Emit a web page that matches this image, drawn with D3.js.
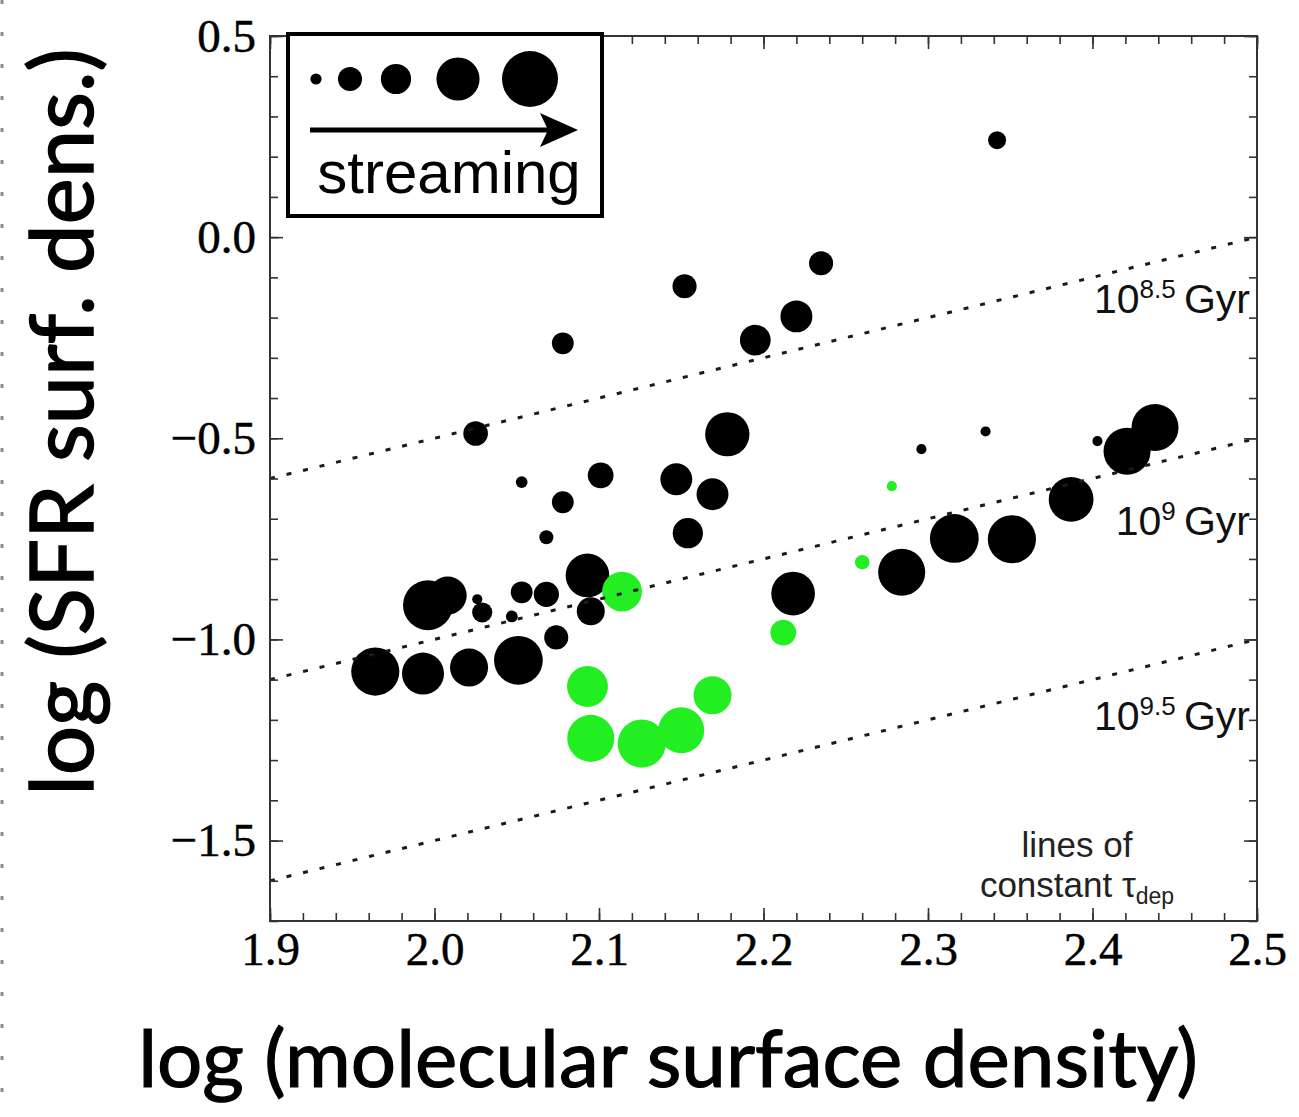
<!DOCTYPE html>
<html>
<head>
<meta charset="utf-8">
<script src="https://cdn.jsdelivr.net/npm/d3@7"></script>
<style>
  body { margin: 0; background: #fff; }
  svg { display: block; }
</style>
</head>
<body>
<svg id="chart" width="1299" height="1117"></svg>
<script>
// black galaxies / regions: log molecular surface density, log SFR surface density, streaming level
const blackX = [2.342, 2.235, 2.152, 2.220, 2.195, 2.078, 2.025, 2.178, 2.053, 2.101,
                2.078, 2.147, 2.169, 2.154, 2.068, 2.093, 1.996, 2.008, 2.026, 2.029,
                2.053, 2.068, 2.047, 2.095, 2.074, 1.964, 1.993, 2.021, 2.051, 2.218,
                2.296, 2.335, 2.403, 2.421, 2.438, 2.387, 2.351, 2.316, 2.284];
const blackY = [0.241, -0.065, -0.122, -0.197, -0.256, -0.264, -0.488, -0.490, -0.609, -0.592,
                -0.659, -0.602, -0.639, -0.736, -0.746, -0.841, -0.915, -0.891, -0.900, -0.933,
                -0.883, -0.888, -0.943, -0.930, -0.995, -1.080, -1.085, -1.070, -1.052, -0.886,
                -0.527, -0.483, -0.507, -0.532, -0.473, -0.652, -0.751, -0.749, -0.833];
const blackStream = [0.32, 0.43, 0.43, 0.57, 0.55, 0.39, 0.44, 0.79, 0.21, 0.46,
                     0.39, 0.57, 0.57, 0.54, 0.25, 0.78, 0.89, 0.68, 0.18, 0.36,
                     0.39, 0.45, 0.21, 0.50, 0.43, 0.86, 0.75, 0.68, 0.87, 0.78,
                     0.18, 0.18, 0.18, 0.84, 0.84, 0.80, 0.86, 0.87, 0.84];

// green galaxies / regions
const greenX = [2.114, 2.093, 2.095, 2.126, 2.150, 2.169, 2.212, 2.260, 2.278];
const greenY = [-0.881, -1.117, -1.246, -1.259, -1.226, -1.139, -0.983, -0.808, -0.619];
const greenStream = [0.71, 0.73, 0.84, 0.86, 0.82, 0.68, 0.46, 0.26, 0.18];

// legend sizes (increasing streaming)
const legendStream = [0.20, 0.43, 0.54, 0.77, 1.0];

// depletion times (log yr) for the dotted reference lines
const depLogTau = [8.5, 9, 9.5];
const depLabels = ['8.5', '9', '9.5'];

const xTicks = [1.9, 2.0, 2.1, 2.2, 2.3, 2.4, 2.5];
const yTicks = [-1.5, -1.0, -0.5, 0.0, 0.5];
const xMinor = d3.range(1.9, 2.5001, 0.02);
const yMinor = d3.range(-1.7, 0.5001, 0.1);

const margin = { top: 36, right: 42, bottom: 196, left: 270 };
const width = 1299 - margin.left - margin.right;
const height = 1117 - margin.top - margin.bottom;

const svg = d3.select('#chart');

// faint dashed edge on the far left of the page
svg.append('line')
    .attr('x1', 2).attr('x2', 2)
    .attr('y1', 0).attr('y2', 1117)
    .attr('stroke', '#8a8a8a')
    .attr('stroke-width', 3)
    .attr('stroke-dasharray', '4 28');

const g = svg.append('g')
    .attr('transform', `translate(${margin.left}, ${margin.top})`);

const xScale = d3.scaleLinear().domain([1.9, 2.5]).range([0, width]);
const yScale = d3.scaleLinear().domain([-1.7, 0.5]).range([height, 0]);
const rScale = d3.scaleLinear().domain([0, 1]).range([0, 28]);

g.append('clipPath').attr('id', 'plot-clip')
    .append('rect').attr('width', width).attr('height', height);

// points
const blackPts = blackX.map((x, i) => ({ x, y: blackY[i], s: blackStream[i], c: '#000' }));
const greenPts = greenX.map((x, i) => ({ x, y: greenY[i], s: greenStream[i], c: '#22ee22' }));

g.append('g')
    .attr('clip-path', 'url(#plot-clip)')
    .selectAll('circle')
    .data(blackPts.concat(greenPts))
    .join('circle')
    .attr('cx', d => xScale(d.x))
    .attr('cy', d => yScale(d.y))
    .attr('r', d => rScale(d.s))
    .attr('fill', d => d.c);

// lines of constant depletion time: log SFR = log Sigma + 6 - log tau
const line = d3.line()
    .x(d => xScale(d[0]))
    .y(d => yScale(d[1]));

g.append('g')
    .attr('clip-path', 'url(#plot-clip)')
    .selectAll('path')
    .data(depLogTau)
    .join('path')
    .attr('d', t => line([[1.9, 1.9 + 6 - t], [2.5, 2.5 + 6 - t]]))
    .attr('fill', 'none')
    .attr('stroke', '#1a1a1a')
    .attr('stroke-width', 3)
    .attr('stroke-dasharray', '5 12');

// axes, ticks inward on all four sides
function styleAxis(sel) {
    sel.select('.domain').remove();
    sel.selectAll('line').attr('stroke', '#333').attr('stroke-width', 1.6);
    sel.selectAll('text')
        .attr('fill', '#000')
        .attr('stroke', '#000')
        .attr('stroke-width', 0.5)
        .style('font-family', '"Liberation Serif", "Times New Roman", serif')
        .style('font-size', '47px');
}

const fmt = d3.format('.1f');

g.append('g').attr('transform', `translate(0,${height})`)
    .call(d3.axisBottom(xScale).tickValues(xTicks).tickFormat(fmt)
        .tickSizeInner(-13).tickSizeOuter(0).tickPadding(11))
    .call(styleAxis);
g.append('g').attr('transform', `translate(0,${height})`)
    .call(d3.axisBottom(xScale).tickValues(xMinor).tickFormat('')
        .tickSizeInner(-8).tickSizeOuter(0))
    .call(styleAxis);
g.append('g')
    .call(d3.axisTop(xScale).tickValues(xTicks).tickFormat('')
        .tickSizeInner(-13).tickSizeOuter(0))
    .call(styleAxis);
g.append('g')
    .call(d3.axisTop(xScale).tickValues(xMinor).tickFormat('')
        .tickSizeInner(-8).tickSizeOuter(0))
    .call(styleAxis);

g.append('g')
    .call(d3.axisLeft(yScale).tickValues(yTicks).tickFormat(fmt)
        .tickSizeInner(-13).tickSizeOuter(0).tickPadding(14))
    .call(styleAxis);
g.append('g')
    .call(d3.axisLeft(yScale).tickValues(yMinor).tickFormat('')
        .tickSizeInner(-8).tickSizeOuter(0))
    .call(styleAxis);
g.append('g').attr('transform', `translate(${width},0)`)
    .call(d3.axisRight(yScale).tickValues(yTicks).tickFormat('')
        .tickSizeInner(-13).tickSizeOuter(0))
    .call(styleAxis);
g.append('g').attr('transform', `translate(${width},0)`)
    .call(d3.axisRight(yScale).tickValues(yMinor).tickFormat('')
        .tickSizeInner(-8).tickSizeOuter(0))
    .call(styleAxis);

// frame
g.append('rect')
    .attr('width', width).attr('height', height)
    .attr('fill', 'none')
    .attr('stroke', '#333')
    .attr('stroke-width', 2);

// depletion time labels
const sans = '"Liberation Sans", Arial, Helvetica, sans-serif';
const labelY = [313, 535, 730];
depLabels.forEach((lab, i) => {
    const t = svg.append('text')
        .attr('x', 1250).attr('y', labelY[i])
        .attr('text-anchor', 'end')
        .style('font-family', sans)
        .style('font-size', '41px')
        .attr('fill', '#111');
    t.append('tspan').text('10');
    t.append('tspan').attr('dy', -15).style('font-size', '26px').text(lab);
    t.append('tspan').attr('dy', 15).text('\u2009Gyr');
});

// note in lower right
svg.append('text')
    .attr('x', 1077).attr('y', 857)
    .attr('text-anchor', 'middle')
    .style('font-family', sans).style('font-size', '35px')
    .attr('fill', '#222')
    .text('lines of');
const note = svg.append('text')
    .attr('x', 1077).attr('y', 897)
    .attr('text-anchor', 'middle')
    .style('font-family', sans).style('font-size', '35px')
    .attr('fill', '#222');
note.append('tspan').text('constant \u03c4');
note.append('tspan').attr('dy', 7).style('font-size', '23px').text('dep');

// streaming legend
const legend = svg.append('g');
legend.append('rect')
    .attr('x', 288).attr('y', 34)
    .attr('width', 314).attr('height', 182)
    .attr('fill', '#fff')
    .attr('stroke', '#000')
    .attr('stroke-width', 4);

const legendPos = [316, 350, 396, 458, 530];
legend.selectAll('circle')
    .data(legendStream)
    .join('circle')
    .attr('cx', (d, i) => legendPos[i])
    .attr('cy', 79)
    .attr('r', d => rScale(d))
    .attr('fill', '#000');

legend.append('line')
    .attr('x1', 310).attr('x2', 555)
    .attr('y1', 130).attr('y2', 130)
    .attr('stroke', '#000').attr('stroke-width', 5);
legend.append('path')
    .attr('d', 'M540,113 L578,130 L540,147 L548,130 Z')
    .attr('fill', '#000');
legend.append('text')
    .attr('x', 449).attr('y', 193)
    .attr('text-anchor', 'middle')
    .style('font-family', sans).style('font-size', '60px')
    .attr('fill', '#000')
    .text('streaming');

// axis titles
const titleFont = 'Lato, "Open Sans", sans-serif';
svg.append('text')
    .attr('transform', 'translate(93, 422) rotate(-90)')
    .attr('text-anchor', 'middle')
    .style('font-family', titleFont).style('font-size', '87px')
    .attr('fill', '#000')
    .attr('stroke', '#000').attr('stroke-width', 1.5)
    .text('log (SFR surf. dens.)');

svg.append('text')
    .attr('x', 668).attr('y', 1087)
    .attr('text-anchor', 'middle')
    .style('font-family', titleFont).style('font-size', '80px')
    .attr('fill', '#000')
    .attr('stroke', '#000').attr('stroke-width', 1.2)
    .text('log (molecular surface density)');
</script>
</body>
</html>
